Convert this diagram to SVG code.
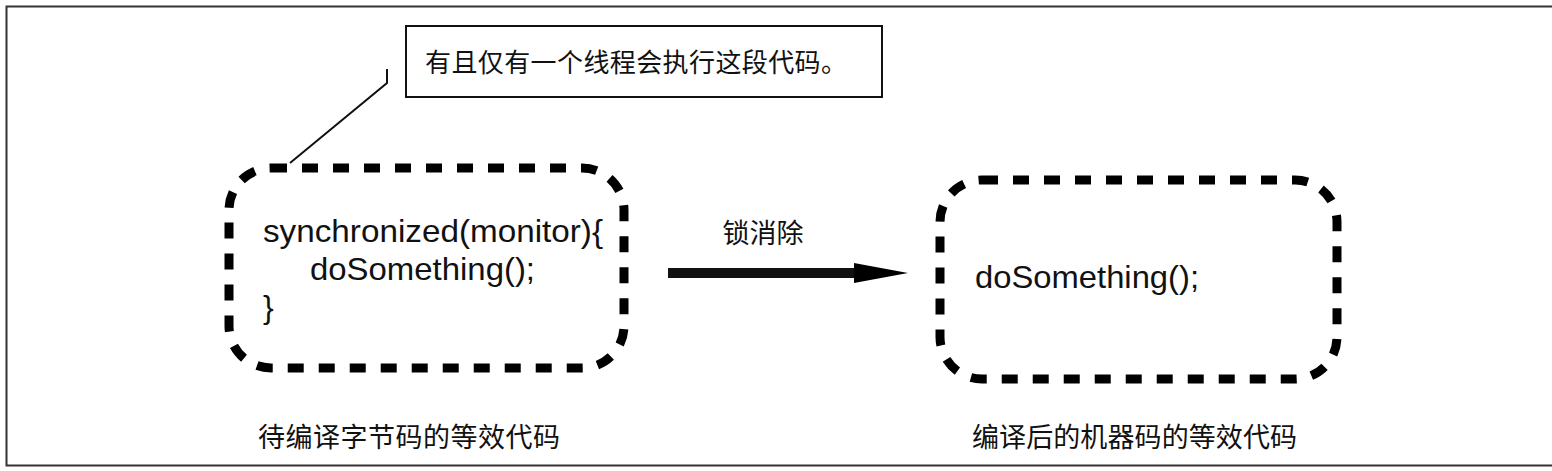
<svg xmlns="http://www.w3.org/2000/svg" width="1552" height="471" viewBox="0 0 1552 471">
  <style>
    .frame { fill: none; stroke: #333; stroke-width: 2; }
    .dash { fill: none; stroke: #000; stroke-width: 9; stroke-dasharray: 16 15; }
    .code { font-family: "Liberation Sans", Arial, sans-serif; font-size: 32px; fill: #111; }
    .cjk { font-family: "Noto Sans CJK SC", sans-serif; fill: #111; }
    .callout { fill: #fff; stroke: #111; stroke-width: 2; }
    .conn { fill: none; stroke: #111; }
  </style>
  <defs>
    <marker id="head" markerWidth="54" markerHeight="20" refX="0" refY="10" orient="auto" markerUnits="userSpaceOnUse">
      <polygon points="0,0 54,10 0,20" fill="#000"/>
    </marker>
  </defs>
  <rect width="1552" height="471" fill="#fff"/>
  <path class="frame" d="M1552,6.5 H6.5 V465.5 H1552"/>

  <g id="connectors">
    <polyline class="conn" stroke-width="2" points="387,69 387,83 290,163"/>
    <line class="conn" stroke="#000" stroke-width="10" x1="668" y1="273" x2="854" y2="273" marker-end="url(#head)"/>
  </g>

  <g id="callout">
    <rect class="callout" x="406" y="26" width="476" height="71"/>
    <text class="cjk" x="425" y="72" font-size="26" textLength="422">有且仅有一个线程会执行这段代码。</text>
  </g>

  <g id="source-code">
    <rect class="dash" x="229" y="168" width="395" height="200" rx="42" ry="42"/>
    <text class="code" x="263" y="242" textLength="340" lengthAdjust="spacingAndGlyphs">synchronized(monitor){</text>
    <text class="code" x="310" y="280" textLength="225" lengthAdjust="spacingAndGlyphs">doSomething();</text>
    <text class="code" x="263" y="318">}</text>
  </g>

  <g id="compiled-code">
    <rect class="dash" x="940" y="180" width="397" height="199" rx="42" ry="42"/>
    <text class="code" x="975" y="288" textLength="224" lengthAdjust="spacingAndGlyphs">doSomething();</text>
  </g>

  <g id="edge-label">
    <text class="cjk" x="763" y="243" font-size="27" text-anchor="middle">锁消除</text>
  </g>

  <g id="labels">
    <text class="cjk" x="258" y="447" font-size="27" textLength="302">待编译字节码的等效代码</text>
    <text class="cjk" x="972" y="447" font-size="27" textLength="325">编译后的机器码的等效代码</text>
  </g>
</svg>
